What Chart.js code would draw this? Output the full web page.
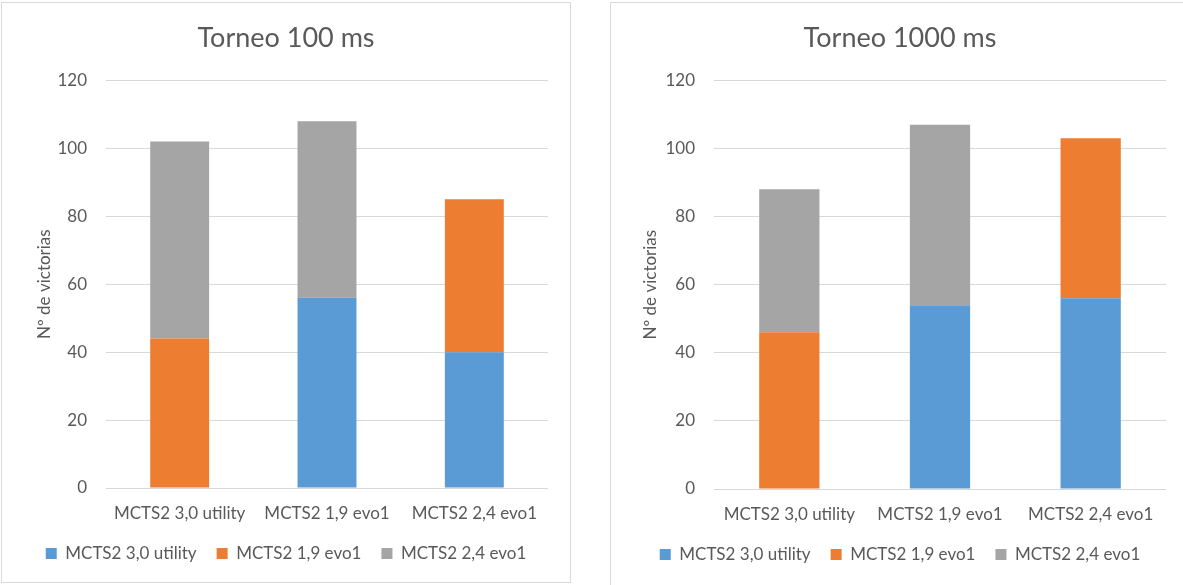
<!DOCTYPE html>
<html>
<head>
<meta charset="utf-8">
<script src="https://cdn.jsdelivr.net/npm/chart.js@4/dist/chart.umd.min.js"></script>
<style>
  html, body { margin: 0; padding: 0; background: #fff; overflow: hidden; }
  body { width: 1183px; height: 585px; position: relative; }
  .box { position: absolute; border: 1px solid #d9d9d9; background: #fff; }
  .box canvas { display: block; }
</style>
</head>
<body>
<div class="box" id="boxA" style="left:1px; top:2px; width:568px; height:579px;">
  <canvas id="chartA" width="568" height="579"></canvas>
</div>
<div class="box" id="boxB" style="left:610px; top:2px; width:578px; height:590px;">
  <canvas id="chartB" width="578" height="590"></canvas>
</div>
<script>
// categories and series names
const categories = ['MCTS2 3,0 utility', 'MCTS2 1,9 evo1', 'MCTS2 2,4 evo1'];
const seriesNames = ['MCTS2 3,0 utility', 'MCTS2 1,9 evo1', 'MCTS2 2,4 evo1'];
const seriesColors = ['#5b9bd5', '#ed7d31', '#a5a5a5'];

// Torneo 100 ms
const utility100 = [0, 56, 40];
const evo19_100 = [44, 0, 45];
const evo24_100 = [58, 52, 0];

// Torneo 1000 ms
const utility1000 = [0, 54, 56];
const evo19_1000 = [46, 0, 47];
const evo24_1000 = [42, 53, 0];

// y axis
const yMin = 0;
const yMax = 120;
const yStep = 20;

const FONT = 'Lato, "Open Sans", sans-serif';
const TEXT = '#595959';

function makeChart(canvasId, title, series, pad) {
  const ctx = document.getElementById(canvasId).getContext('2d');
  return new Chart(ctx, {
    type: 'bar',
    data: {
      labels: categories,
      datasets: series.map((values, i) => ({
        label: seriesNames[i],
        data: values,
        backgroundColor: seriesColors[i],
        borderWidth: 0,
      })),
    },
    options: {
      responsive: false,
      animation: false,
      layout: { padding: { left: 0, right: 0, top: 0, bottom: pad.bottom } },
      datasets: { bar: { categoryPercentage: 1, barPercentage: 0.4 } },
      scales: {
        x: {
          stacked: true,
          afterFit: (scale) => { scale.height = pad.xHeight; },
          grid: { display: false, drawTicks: false },
          border: { display: false },
          ticks: { color: TEXT, font: { family: FONT, size: 17 }, padding: 15, maxRotation: 0 },
        },
        y: {
          stacked: true,
          min: yMin,
          max: yMax,
          afterFit: (scale) => { scale.width = pad.yWidth; },
          ticks: { stepSize: yStep, color: TEXT, font: { family: FONT, size: 17 }, padding: 19 },
          grid: { color: '#d9d9d9', drawTicks: false, lineWidth: 1 },
          border: { display: false },
          title: {
            display: true,
            text: 'Nº de victorias',
            color: TEXT,
            font: { family: FONT, size: 17 },
            padding: { top: pad.yTitle, bottom: 0 },
          },
        },
        // empty right-hand axis, only keeps a gap after the plot
        yRight: {
          type: 'linear',
          position: 'right',
          afterFit: (scale) => { scale.width = pad.right; },
          ticks: { display: false },
          grid: { display: false, drawTicks: false },
          border: { display: false },
        },
      },
      plugins: {
        title: {
          display: true,
          text: title,
          color: TEXT,
          font: { family: FONT, size: 27, weight: 'normal' },
          padding: { top: 19, bottom: 26 },
        },
        legend: {
          position: 'bottom',
          labels: {
            color: TEXT,
            font: { family: FONT, size: 17 },
            boxWidth: 11,
            boxHeight: 11,
            padding: 20,
          },
        },
        tooltip: { enabled: false },
      },
    },
  });
}

makeChart('chartA', 'Torneo 100 ms', [utility100, evo19_100, evo24_100],
  { right: 22, bottom: 10, yWidth: 104, yTitle: 32, xHeight: 37 });
makeChart('chartB', 'Torneo 1000 ms', [utility1000, evo19_1000, evo24_1000],
  { right: 23, bottom: 20, yWidth: 103, yTitle: 29, xHeight: 37 });
</script>
</body>
</html>
